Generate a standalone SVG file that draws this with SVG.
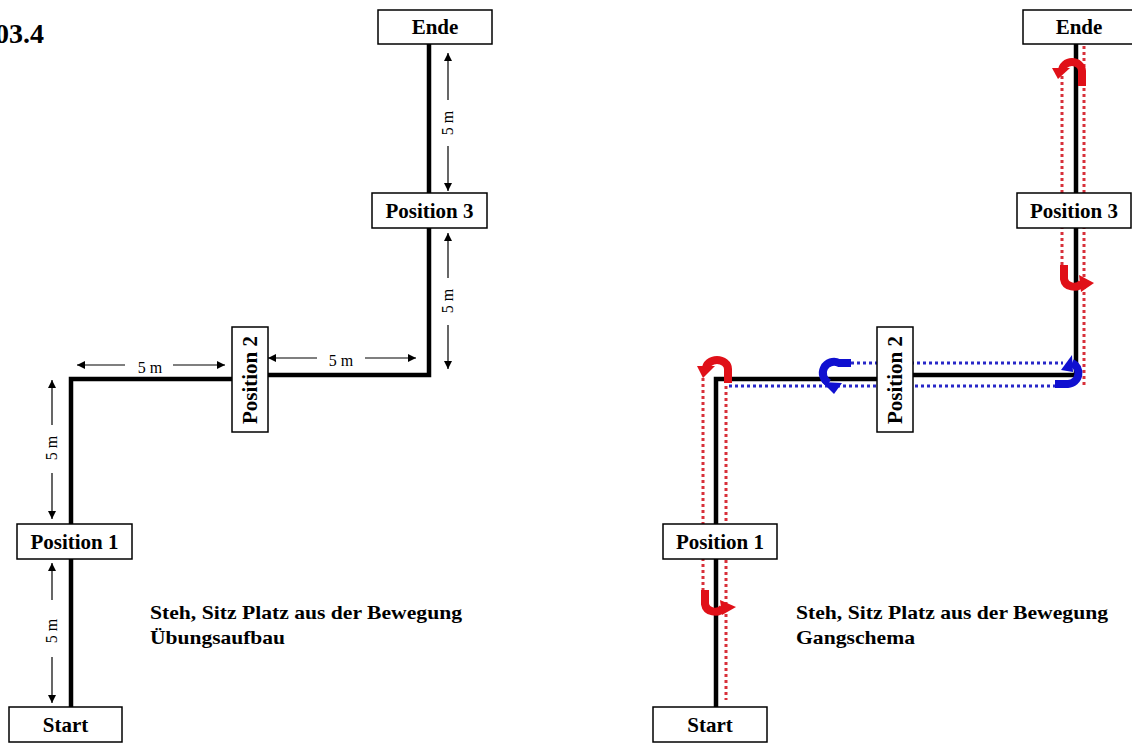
<svg xmlns="http://www.w3.org/2000/svg" width="1132" height="745" viewBox="0 0 1132 745">
<style>
.box{fill:#fff;stroke:#000;stroke-width:1.5}
.lbl{font-family:"Liberation Serif","Times New Roman",serif;font-weight:bold;font-size:21px;fill:#000}
.cap{font-family:"Liberation Serif","Times New Roman",serif;font-weight:bold;font-size:19px;fill:#000}
.dimt{font-family:"Liberation Serif","Times New Roman",serif;font-size:16px;fill:#000}
.path{fill:none;stroke:#000;stroke-width:4.5;stroke-linejoin:miter}
.dim{fill:none;stroke:#000;stroke-width:1.2;marker-end:url(#ah)}
.red{fill:none;stroke:#d8303a;stroke-width:3;stroke-dasharray:3 3}
.blue{fill:none;stroke:#2828c8;stroke-width:3;stroke-dasharray:3 3}
.ur{fill:none;stroke:#e01018;stroke-width:8}
.urh{fill:#e01018}
.ub{fill:none;stroke:#1010d0;stroke-width:8}
.ubh{fill:#1010d0}
</style>
<defs>
<marker id="ah" viewBox="0 0 10 10" refX="10" refY="5" markerWidth="10" markerHeight="8" orient="auto" markerUnits="userSpaceOnUse"><path d="M0,0 L10,5 L0,10 z" fill="#000"/></marker>
</defs>
<rect width="1132" height="745" fill="#fff"/>
<text x="-5" y="43" font-family="Liberation Serif, serif" font-weight="bold" font-size="28">03.4</text>

<g id="connectors">
<polyline class="path" points="71,707 71,379 232,379"/>
<polyline class="path" points="268,375 429,375 429,44"/>
<polyline class="path" points="716,707 716,379 877,379"/>
<polyline class="path" points="913,375 1076,375 1076,44"/>

<line class="dim" x1="448" y1="100" x2="448" y2="53"/>
<line class="dim" x1="448" y1="146" x2="448" y2="191"/>
<text class="dimt" text-anchor="middle" transform="translate(453,123) rotate(-90)">5 m</text>
<line class="dim" x1="448" y1="278" x2="448" y2="233"/>
<line class="dim" x1="448" y1="325" x2="448" y2="369"/>
<text class="dimt" text-anchor="middle" transform="translate(453,301) rotate(-90)">5 m</text>
<line class="dim" x1="125" y1="365" x2="77" y2="365"/>
<line class="dim" x1="173" y1="365" x2="225" y2="365"/>
<text class="dimt" text-anchor="middle" x="150" y="373">5 m</text>
<line class="dim" x1="317" y1="358" x2="268" y2="358"/>
<line class="dim" x1="365" y1="358" x2="416" y2="358"/>
<text class="dimt" text-anchor="middle" x="341" y="366">5 m</text>
<line class="dim" x1="52" y1="425" x2="52" y2="380"/>
<line class="dim" x1="52" y1="473" x2="52" y2="519"/>
<text class="dimt" text-anchor="middle" transform="translate(57,448) rotate(-90)">5 m</text>
<line class="dim" x1="52" y1="600" x2="52" y2="563"/>
<line class="dim" x1="52" y1="657" x2="52" y2="703"/>
<text class="dimt" text-anchor="middle" transform="translate(57,631) rotate(-90)">5 m</text>

<line class="red" x1="703" y1="378" x2="703" y2="592"/>
<line class="red" x1="726" y1="386" x2="726" y2="700"/>
<line class="blue" x1="729" y1="386" x2="1056" y2="386"/>
<line class="blue" x1="851" y1="363" x2="1063" y2="363"/>
<line class="red" x1="1084" y1="46" x2="1084" y2="386"/>
<line class="red" x1="1062" y1="76" x2="1062" y2="268"/>

<path class="ur" d="M728,383 L728,369 A11,9 0 0 0 706,369"/>
<polygon class="urh" points="697,366 715,366 703,378"/>
<path class="ur" d="M1082,86 L1082,71 A10,9 0 0 0 1062,71"/>
<polygon class="urh" points="1052,68 1070,68 1058,79"/>
<path class="ur" d="M1064,265 L1064,279 A10,9 0 0 0 1082,283"/>
<polygon class="urh" points="1079,275 1094,283 1081,292"/>
<path class="ur" d="M705,590 L705,604 A10,9 0 0 0 723,608"/>
<polygon class="urh" points="720,600 736,607 722,615"/>
<path class="ub" d="M851,363 L839,363 A11,11 0 0 0 829,383"/>
<polygon class="ubh" points="822,382 842,383 834,394"/>
<path class="ub" d="M1055,384 L1068,384 A11,11 0 0 0 1072,363"/>
<polygon class="ubh" points="1072,355 1073,372 1061,370"/>
</g>

<g id="node-ende-l"><rect class="box" x="378" y="10" width="114" height="34"/><text class="lbl" x="435" y="34" text-anchor="middle">Ende</text></g>
<g id="node-pos3-l"><rect class="box" x="372" y="193" width="115" height="35"/><text class="lbl" x="429.5" y="218" text-anchor="middle">Position 3</text></g>
<g id="node-pos2-l"><rect class="box" x="232" y="327" width="36" height="105"/><text class="lbl" text-anchor="middle" transform="translate(257,380) rotate(-90)">Position 2</text></g>
<g id="node-pos1-l"><rect class="box" x="17" y="524" width="115" height="35"/><text class="lbl" x="74.5" y="549" text-anchor="middle">Position 1</text></g>
<g id="node-start-l"><rect class="box" x="9" y="707" width="113" height="35"/><text class="lbl" x="65.5" y="732" text-anchor="middle">Start</text></g>
<g id="caption-l">
<text class="cap" x="150" y="619" textLength="312" lengthAdjust="spacingAndGlyphs">Steh, Sitz Platz aus der Bewegung</text>
<text class="cap" x="150" y="644" textLength="135" lengthAdjust="spacingAndGlyphs">Übungsaufbau</text>
</g>

<g id="node-ende-r"><rect class="box" x="1023" y="10" width="114" height="34"/><text class="lbl" x="1079" y="34" text-anchor="middle">Ende</text></g>
<g id="node-pos3-r"><rect class="box" x="1017" y="193" width="114" height="35"/><text class="lbl" x="1074" y="218" text-anchor="middle">Position 3</text></g>
<g id="node-pos2-r"><rect class="box" x="877" y="327" width="36" height="105"/><text class="lbl" text-anchor="middle" transform="translate(902,380) rotate(-90)">Position 2</text></g>
<g id="node-pos1-r"><rect class="box" x="663" y="524" width="114" height="35"/><text class="lbl" x="720" y="549" text-anchor="middle">Position 1</text></g>
<g id="node-start-r"><rect class="box" x="653" y="707" width="114" height="35"/><text class="lbl" x="710" y="732" text-anchor="middle">Start</text></g>
<g id="caption-r">
<text class="cap" x="796" y="619" textLength="312" lengthAdjust="spacingAndGlyphs">Steh, Sitz Platz aus der Bewegung</text>
<text class="cap" x="796" y="644" textLength="119" lengthAdjust="spacingAndGlyphs">Gangschema</text>
</g>
</svg>
